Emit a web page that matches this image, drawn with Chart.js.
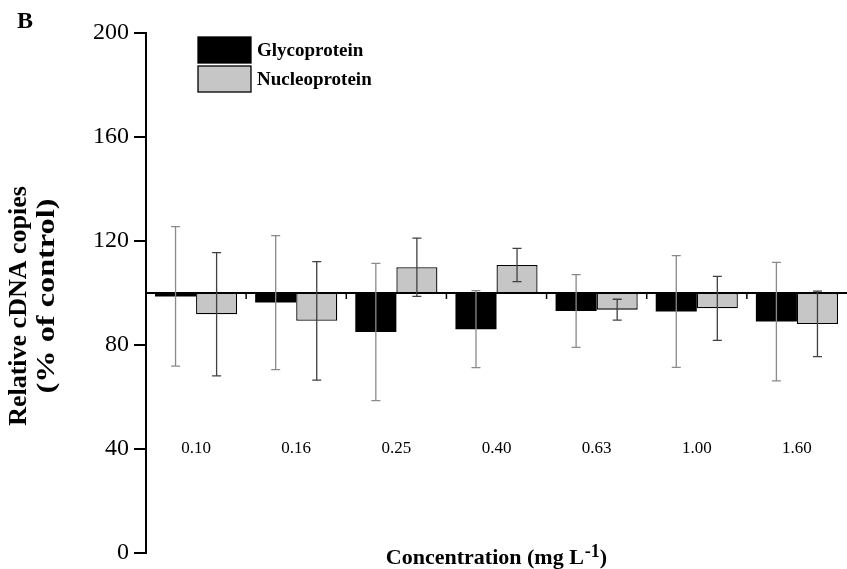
<!DOCTYPE html>
<html>
<head>
<meta charset="utf-8">
<title>Relative cDNA copies</title>
<style>
  body { margin: 0; background: #fff; }
  #wrap { width: 847px; height: 569px; }
</style>
</head>
<body>
<div id="wrap"><canvas id="chart"></canvas></div>
<script src="https://cdn.jsdelivr.net/npm/chart.js"></script>
<script>
// data
const concentrations = ['0.10', '0.16', '0.25', '0.40', '0.63', '1.00', '1.60'];
const glycoMean = [98.7, 96.3, 85.0, 86.1, 93.1, 92.9, 89.0];
const glycoSd = [26.8, 25.8, 26.4, 14.8, 14.0, 21.5, 22.8];
const nucleoMean = [91.8, 89.3, 109.9, 110.8, 93.6, 94.1, 88.1];
const nucleoSd = [23.7, 22.8, 11.2, 6.4, 4.0, 12.3, 12.6];
const controlLevel = 100;
const labelLevel = 40;
const yTicks = [0, 40, 80, 120, 160, 200];

const serif = '"Liberation Serif", "Times New Roman", serif';

// bars float from the control level to the mean
const floating = arr => arr.map(v => [controlLevel, v]);

const series = [
  { label: 'Glycoprotein', mean: glycoMean, sd: glycoSd, fill: '#000000', errColor: '#8a8a8a' },
  { label: 'Nucleoprotein', mean: nucleoMean, sd: nucleoSd, fill: '#c6c6c6', errColor: '#404040' }
];

// error bars on top of the bars
const errorBars = {
  id: 'errorBars',
  afterDatasetsDraw(chart) {
    const ctx = chart.ctx;
    const y = chart.scales.y;
    ctx.save();
    series.forEach((s, d) => {
      const meta = chart.getDatasetMeta(d);
      meta.data.forEach((bar, i) => {
        const top = y.getPixelForValue(s.mean[i] + s.sd[i]);
        const bot = y.getPixelForValue(s.mean[i] - s.sd[i]);
        ctx.strokeStyle = s.errColor;
        ctx.lineWidth = 1.3;
        ctx.beginPath();
        ctx.moveTo(bar.x, top);
        ctx.lineTo(bar.x, bot);
        ctx.moveTo(bar.x - 4.5, top);
        ctx.lineTo(bar.x + 4.5, top);
        ctx.moveTo(bar.x - 4.5, bot);
        ctx.lineTo(bar.x + 4.5, bot);
        ctx.stroke();
      });
    });
    ctx.restore();
  }
};

// control line at 100 with small ticks between the groups
const controlLine = {
  id: 'controlLine',
  afterDatasetsDraw(chart) {
    const ctx = chart.ctx;
    const area = chart.chartArea;
    const x = chart.scales.x;
    const py = chart.scales.y.getPixelForValue(controlLevel);
    ctx.save();
    ctx.strokeStyle = '#000';
    ctx.lineWidth = 2;
    ctx.beginPath();
    ctx.moveTo(area.left, py);
    ctx.lineTo(chart.width, py);
    ctx.stroke();
    const step = x.getPixelForValue(1) - x.getPixelForValue(0);
    ctx.lineWidth = 1.5;
    for (let i = 1; i < concentrations.length; i++) {
      const bx = x.getPixelForValue(i) - step / 2;
      ctx.beginPath();
      ctx.moveTo(bx, py);
      ctx.lineTo(bx, py + 6);
      ctx.stroke();
    }
    ctx.restore();
  }
};

// category labels inside the plot, titles, legend and panel letter
const annotations = {
  id: 'annotations',
  afterDraw(chart) {
    const ctx = chart.ctx;
    const x = chart.scales.x;
    const y = chart.scales.y;
    ctx.save();
    ctx.fillStyle = '#000';

    ctx.font = '17px ' + serif;
    ctx.textAlign = 'center';
    ctx.textBaseline = 'middle';
    const ly = y.getPixelForValue(labelLevel);
    concentrations.forEach((c, i) => ctx.fillText(c, x.getPixelForValue(i), ly));

    // x title with superscript
    const main = 'Concentration (mg L';
    const sup = '-1';
    const end = ')';
    ctx.font = 'bold 22px ' + serif;
    const w1 = ctx.measureText(main).width;
    const w3 = ctx.measureText(end).width;
    ctx.font = 'bold 18px ' + serif;
    const w2 = ctx.measureText(sup).width;
    let tx = 496 - (w1 + w2 + w3) / 2;
    const base = 564;
    ctx.textAlign = 'left';
    ctx.textBaseline = 'alphabetic';
    ctx.font = 'bold 22px ' + serif;
    ctx.fillText(main, tx, base);
    tx += w1 + 1;
    ctx.font = 'bold 18px ' + serif;
    ctx.fillText(sup, tx, base - 7);
    tx += w2;
    ctx.font = 'bold 22px ' + serif;
    ctx.fillText(end, tx, base);

    // y title, two lines (second line is set wider in the figure)
    ctx.font = 'bold 26px ' + serif;
    ctx.textAlign = 'center';
    ctx.textBaseline = 'middle';
    ctx.save();
    ctx.translate(19, 306);
    ctx.rotate(-Math.PI / 2);
    ctx.fillText('Relative cDNA copies', 0, 0);
    ctx.restore();
    ctx.save();
    ctx.translate(47, 296);
    ctx.rotate(-Math.PI / 2);
    const l2 = '(% of control)';
    ctx.scale(195 / ctx.measureText(l2).width, 1);
    ctx.fillText(l2, 0, 0);
    ctx.restore();

    // legend
    ctx.font = 'bold 19px ' + serif;
    ctx.textAlign = 'left';
    ctx.textBaseline = 'middle';
    series.forEach((s, i) => {
      const top = 37 + i * 29;
      ctx.fillStyle = s.fill;
      ctx.fillRect(198, top, 53, 26);
      ctx.strokeStyle = '#000';
      ctx.lineWidth = 1.3;
      ctx.strokeRect(198, top, 53, 26);
      ctx.fillStyle = '#000';
      ctx.fillText(s.label, 257, top + 14);
    });

    ctx.font = 'bold 24px ' + serif;
    ctx.textAlign = 'center';
    ctx.fillText('B', 25, 22);
    ctx.restore();
  }
};

new Chart(document.getElementById('chart'), {
  type: 'bar',
  data: {
    labels: concentrations,
    datasets: series.map((s, d) => ({
      label: s.label,
      data: floating(s.mean),
      backgroundColor: s.fill,
      borderColor: '#000',
      borderWidth: d === 0 ? 0 : 1.3,
      borderSkipped: false,
      categoryPercentage: 0.82,
      barPercentage: 1.0
    }))
  },
  options: {
    responsive: true,
    maintainAspectRatio: false,
    animation: false,
    layout: { padding: { top: 33, bottom: 16, left: 0, right: 0 } },
    plugins: {
      legend: { display: false },
      tooltip: { enabled: false }
    },
    scales: {
      x: {
        display: false,
        offset: true
      },
      y: {
        min: 0,
        max: 200,
        afterBuildTicks: s => { s.ticks = yTicks.map(v => ({ value: v })); },
        afterFit: s => { s.width = 146; s.paddingTop = 0; s.paddingBottom = 0; },
        border: { display: true, color: '#000', width: 2 },
        grid: { drawOnChartArea: false, drawTicks: true, tickLength: 12, color: '#000', lineWidth: 2 },
        ticks: { color: '#000', padding: 5, font: { family: serif, size: 24 } }
      }
    }
  },
  plugins: [controlLine, errorBars, annotations]
});
</script>
</body>
</html>
